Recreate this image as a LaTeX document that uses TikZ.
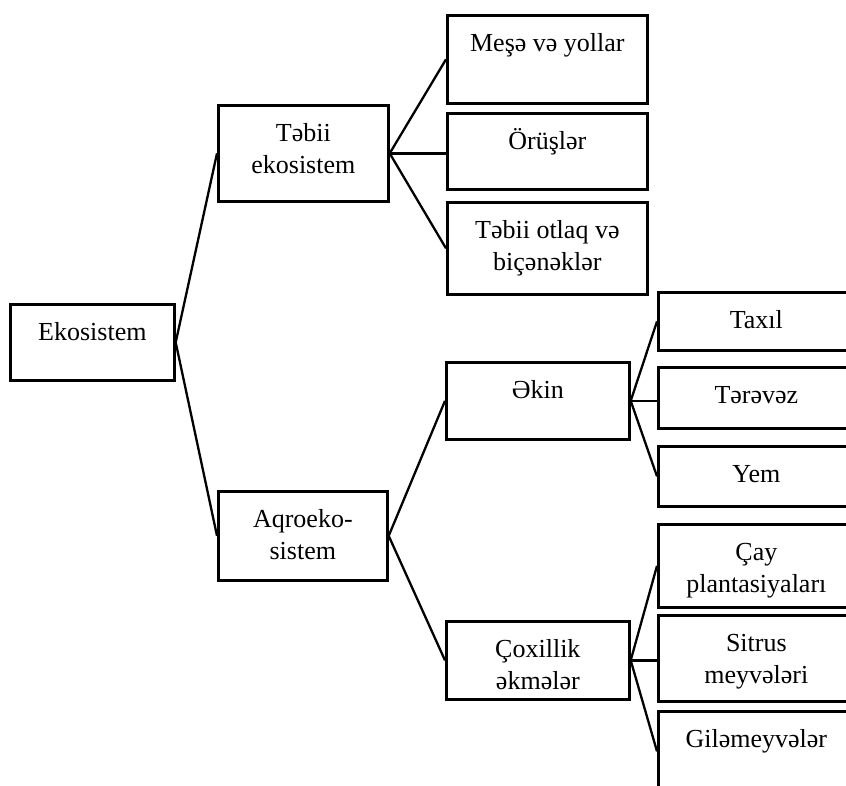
\documentclass[tikz,border=0pt]{standalone}
\usepackage{fontspec}
\setmainfont{Liberation Serif}
\usetikzlibrary{positioning}
\newcommand{\boxtxt}[3]{\parbox[c][#2][t]{#1}{\centering\rule{0pt}{36pt}#3}}
\tikzset{
  box/.style={
    draw,
    line width=2.7pt,
    inner sep=0pt,
    anchor=north west,
    font=\fontsize{26}{32}\selectfont,
  },
  link/.style={line width=2.3pt},
}

\begin{document}
\begin{tikzpicture}[x=1pt, y=-1pt]

  \useasboundingbox (0,0) rectangle (846,785);
  \clip (0,0) rectangle (846,785);

  % Define nodes
  \node[box] (eko) at (9,303) {\boxtxt{164pt}{76pt}{Ekosistem}};

  \node[box] (tebii) at (217,104) {\boxtxt{170pt}{96pt}{Təbii\\ekosistem}};
  \node[box] (aqro) at (217,490) {\boxtxt{169pt}{89pt}{Aqroeko-\\sistem}};

  \node[box] (mese) at (446,14) {\boxtxt{200pt}{88pt}{Meşə və yollar}};
  \node[box] (orus) at (446,112) {\boxtxt{200pt}{76pt}{Örüşlər}};
  \node[box] (otlaq) at (446,201) {\boxtxt{200pt}{92pt}{Təbii otlaq və\\biçənəklər}};

  \node[box] (ekin) at (445,361) {\boxtxt{183pt}{77pt}{Əkin}};
  \node[box] (coxillik) at (445,620) {\boxtxt{183pt}{78pt}{Çoxillik\\əkmələr}};

  \node[box] (taxil) at (657,291) {\boxtxt{196pt}{58pt}{Taxıl}};
  \node[box] (terevez) at (657,366) {\boxtxt{196pt}{61pt}{Tərəvəz}};
  \node[box] (yem) at (657,445) {\boxtxt{196pt}{60pt}{Yem}};

  \node[box] (cay) at (657,523) {\boxtxt{196pt}{83pt}{Çay\\plantasiyaları}};
  \node[box] (sitrus) at (657,614) {\boxtxt{196pt}{86pt}{Sitrus\\meyvələri}};
  \node[box] (gilem) at (657,710) {\boxtxt{196pt}{80pt}{Giləmeyvələr}};

  % Connect nodes
  \draw[link] (eko.east) -- (tebii.west);
  \draw[link] (eko.east) -- (aqro.west);

  \draw[link] (tebii.east) -- (mese.west);
  \draw[link] (tebii.east) -- (tebii.east -| orus.west);
  \draw[link] (tebii.east) -- (otlaq.west);

  \draw[link] (aqro.east) -- (ekin.west);
  \draw[link] (aqro.east) -- (coxillik.west);

  \draw[link] (ekin.east) -- (taxil.west);
  \draw[link] (ekin.east) -- (ekin.east -| terevez.west);
  \draw[link] (ekin.east) -- (yem.west);

  \draw[link] (coxillik.east) -- (cay.west);
  \draw[link] (coxillik.east) -- (coxillik.east -| sitrus.west);
  \draw[link] (coxillik.east) -- (gilem.west);

\end{tikzpicture}
\end{document}
